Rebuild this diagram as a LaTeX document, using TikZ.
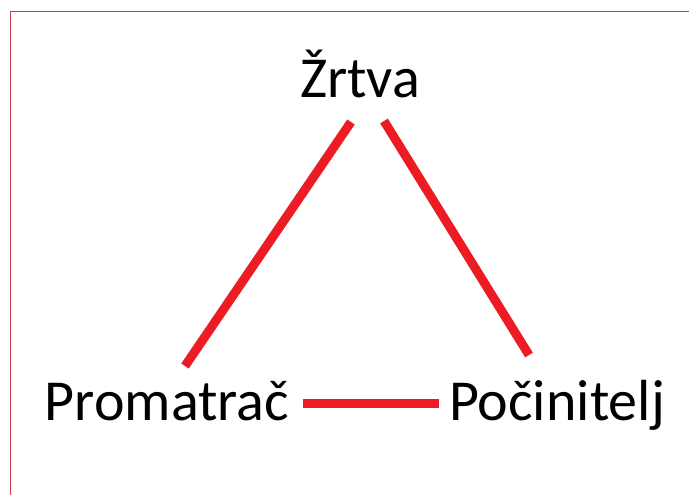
\documentclass[tikz,border=0pt]{standalone}
\usepackage{fontspec}
\setmainfont{Carlito}
\definecolor{linered}{RGB}{237,28,36}
\definecolor{framered}{RGB}{192,64,80}
\begin{document}
\begin{tikzpicture}[x=1pt,y=-1pt,
  lbl/.style={anchor=base,inner sep=0pt,font=\fontsize{58}{60}\selectfont},
  conn/.style={draw=linered,line width=9pt}]
\useasboundingbox (0,0) rectangle (689,495);
\fill[white] (0,0) rectangle (689,495);
\draw[framered,line width=1.3pt] (10.5,495) -- (10.5,11.5) -- (689,11.5);
\node[lbl] (zrtva) at (360,98) {Žrtva};
\node[lbl] (prom) at (167,420) {Promatrač};
\node[lbl] (poc) at (557,420) {Počinitelj};
\coordinate (zl) at (351,122);
\coordinate (zr) at (384,121);
\coordinate (pl) at (185,366);
\coordinate (cr) at (529,355);
\coordinate (hl) at (303,403.5);
\coordinate (hr) at (439,403.5);
\draw[conn] (zl) -- (pl);
\draw[conn] (zr) -- (cr);
\draw[conn] (hl) -- (hr);
\end{tikzpicture}
\end{document}
